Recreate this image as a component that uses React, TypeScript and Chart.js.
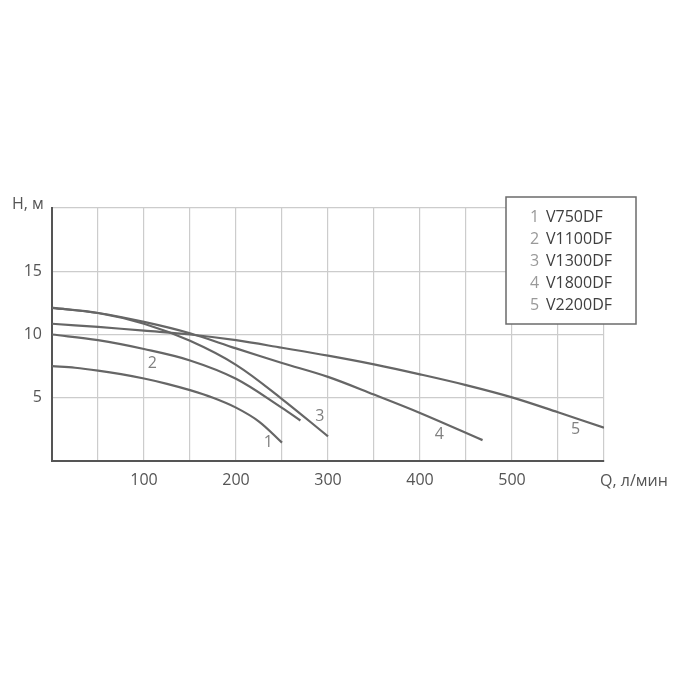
import React, { useEffect, useRef } from "react";
import { Chart, registerables } from "chart.js";

Chart.register(...registerables);

// Pump curves, H (m) against Q (l/min)
const modelNames = ["V750DF", "V1100DF", "V1300DF", "V1800DF", "V2200DF"];

const flow1 = [0, 25, 50, 75, 100, 125, 150, 175, 200, 225, 250];
const head1 = [7.5, 7.37, 7.15, 6.87, 6.52, 6.1, 5.6, 5.0, 4.22, 3.12, 1.45];

const flow2 = [0, 50, 100, 150, 200, 250, 270];
const head2 = [10.0, 9.55, 8.85, 7.95, 6.5, 4.2, 3.2];

const flow3 = [0, 50, 100, 150, 200, 250, 300];
const head3 = [12.1, 11.7, 10.85, 9.5, 7.6, 4.9, 1.95];

const flow4 = [0, 50, 100, 150, 200, 250, 300, 350, 400, 468];
const head4 = [12.1, 11.7, 11.0, 10.1, 8.9, 7.75, 6.65, 5.25, 3.8, 1.65];

const flow5 = [0, 50, 100, 150, 200, 250, 300, 350, 400, 450, 500, 550, 600];
const head5 = [10.85, 10.6, 10.3, 10.0, 9.55, 8.95, 8.33, 7.64, 6.85, 6.0, 5.03, 3.85, 2.63];

// where the curve numbers sit (in data units)
const labelFlow = [235, 109, 291, 421, 569];
const labelHead = [1.5, 7.7, 3.55, 2.1, 2.5];

const xTickLabels = [100, 200, 300, 400, 500];
const yTickLabels = [5, 10, 15];

const FONT = "'Open Sans', sans-serif";
const LINE_COLOR = "#666666";

const flows = [flow1, flow2, flow3, flow4, flow5];
const heads = [head1, head2, head3, head4, head5];

export default function App() {
  const canvasRef = useRef<HTMLCanvasElement | null>(null);

  useEffect(() => {
    const ctx = canvasRef.current?.getContext("2d");
    if (!ctx) return;

    const datasets = flows.map((f, i) => ({
      label: modelNames[i],
      data: f.map((q, j) => ({ x: q, y: heads[i][j] })),
      borderColor: LINE_COLOR,
      borderWidth: 2.2,
      pointRadius: 0,
      fill: false,
      tension: 0.35,
    }));

    // axis titles, curve numbers and the boxed legend
    const decorPlugin = {
      id: "decor",
      afterDraw: (chart: any) => {
        const { ctx, chartArea, scales } = chart;
        ctx.save();
        ctx.font = `16px ${FONT}`;
        ctx.fillStyle = "#555";
        ctx.textBaseline = "middle";
        ctx.textAlign = "left";
        ctx.fillText("H, м", chartArea.left - 40, chartArea.top - 4);
        ctx.fillText("Q, л/мин", chartArea.right - 4, chartArea.bottom + 20);

        // curve numbers
        ctx.fillStyle = "#808080";
        ctx.textAlign = "center";
        labelFlow.forEach((q, i) => {
          ctx.fillText(
            String(i + 1),
            scales.x.getPixelForValue(q),
            scales.y.getPixelForValue(labelHead[i])
          );
        });

        // legend box
        const bx = chartArea.right - 98;
        const by = chartArea.top - 11;
        const bw = 130;
        const bh = 127;
        ctx.fillStyle = "#fff";
        ctx.fillRect(bx, by, bw, bh);
        ctx.strokeStyle = "#6b6b6b";
        ctx.lineWidth = 1.5;
        ctx.strokeRect(bx, by, bw, bh);
        ctx.textAlign = "left";
        modelNames.forEach((name, i) => {
          const ty = by + 20 + i * 22.2;
          ctx.fillStyle = "#999";
          ctx.fillText(String(i + 1), bx + 24, ty);
          ctx.fillStyle = "#3f3f3f";
          ctx.fillText(name, bx + 40, ty);
        });
        ctx.restore();
      },
    };

    const chart = new Chart(ctx, {
      type: "line",
      data: { datasets },
      options: {
        animation: false,
        responsive: false,
        maintainAspectRatio: false,
        layout: { padding: { left: 0, right: 82, top: 208, bottom: 0 } },
        plugins: {
          legend: { display: false },
          tooltip: { enabled: false },
        },
        scales: {
          x: {
            type: "linear",
            min: 0,
            max: 600,
            afterFit: (scale: any) => {
              scale.height = 225;
            },
            ticks: {
              stepSize: 50,
              autoSkip: false,
              maxRotation: 0,
              padding: 10,
              color: "#555",
              font: { family: FONT, size: 16 },
              callback: (v: any) => (xTickLabels.includes(Number(v)) ? String(v) : ""),
            },
            grid: { color: "#cccccc", lineWidth: 1.2, drawTicks: false },
            border: { color: "#555", width: 2 },
          },
          y: {
            type: "linear",
            min: 0,
            max: 20,
            afterFit: (scale: any) => {
              scale.width = 52;
            },
            ticks: {
              stepSize: 5,
              autoSkip: false,
              padding: 10,
              color: "#555",
              font: { family: FONT, size: 16 },
              callback: (v: any) => (yTickLabels.includes(Number(v)) ? String(v) : ""),
            },
            grid: { color: "#cccccc", lineWidth: 1.2, drawTicks: false },
            border: { color: "#555", width: 2 },
          },
        },
      } as any,
      plugins: [decorPlugin],
    });

    return () => {
      chart.destroy();
    };
  }, []);

  return (
    <div style={{ position: "absolute", left: 0, top: 0, width: 686, height: 686, background: "#fff" }}>
      <canvas ref={canvasRef} width={686} height={686} />
    </div>
  );
}
